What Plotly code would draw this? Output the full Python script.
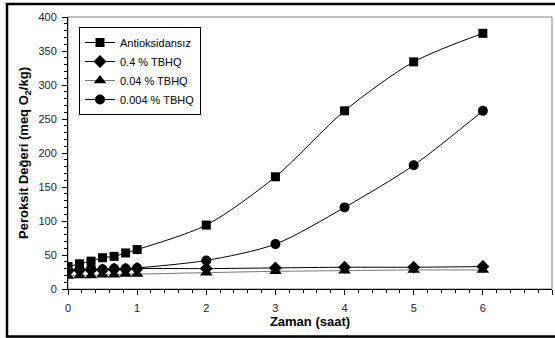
import plotly.graph_objects as go

# Sampling times (hours)
zaman = [0, 1/6, 1/3, 0.5, 2/3, 5/6, 1, 2, 3, 4, 5, 6]

# Peroxide values (meq O2/kg)
antioksidansiz = [33, 37, 41, 46, 48, 53, 58, 94, 165, 262, 334, 376]
tbhq_04 = [27, 28, 28, 28, 29, 29, 30, 30, 31, 32, 32, 33]
tbhq_004 = [19, 20, 20, 21, 21, 22, 22, 24, 26, 27, 28, 28]
tbhq_0004 = [28, 29, 30, 29, 30, 30, 31, 42, 66, 120, 182, 262]

series = [
    ("Antioksidansız", antioksidansiz, "square", 9, "black"),
    ("0.4 % TBHQ", tbhq_04, "diamond", 10, "black"),
    ("0.04 % TBHQ", tbhq_004, "triangle-up", 11, "#777777"),
    ("0.004 % TBHQ", tbhq_0004, "circle", 10, "black"),
]

fig = go.Figure()
for name, vals, sym, size, lcol in series:
    fig.add_trace(go.Scatter(
        x=zaman, y=vals, name=name, mode="lines+markers",
        line=dict(color=lcol, width=1, shape="spline", smoothing=0.8),
        marker=dict(symbol=sym, size=size, color="black", line=dict(width=0)),
    ))

W, H = 555, 338
L, R, T, B = 68, 3, 17, 49
pw, ph = W - L - R, H - T - B


def px(x):
    return (x - L) / pw


def py(y):
    return (H - B - y) / ph


# plot-area box (thin grey) and the outer black frame
fig.add_shape(type="rect", xref="paper", yref="paper", x0=0, x1=1, y0=0, y1=1,
              line=dict(color="#808080", width=1), layer="below")
fig.add_shape(type="rect", xref="paper", yref="paper",
              x0=px(7), x1=px(558), y0=py(336.5), y1=py(4),
              line=dict(color="black", width=2.5), layer="above")

axis_font = dict(family="Liberation Sans, Arial, sans-serif", size=11, color="#222222")
title_font = dict(family="Liberation Sans, Arial, sans-serif", size=13, color="black")

fig.update_xaxes(
    range=[0, 7], dtick=1, tick0=0, showgrid=False, zeroline=False,
    showline=True, linecolor="black", linewidth=1,
    ticks="outside", ticklen=5, tickcolor="black", tickfont=axis_font,
    ticklabelstandoff=4,
    minor=dict(dtick=0.2, ticks="outside", ticklen=3, tickcolor="black", showgrid=False),
    title=dict(text="<b>Zaman (saat)</b>", font=title_font, standoff=2),
)
fig.update_yaxes(
    range=[0, 400], dtick=50, tick0=0, showgrid=False, zeroline=False,
    showline=True, linecolor="black", linewidth=1,
    ticks="outside", ticklen=5, tickcolor="black", tickfont=axis_font,
    ticklabelstandoff=3,
    minor=dict(dtick=10, ticks="outside", ticklen=3, tickcolor="black", showgrid=False),
    title=dict(text="<b>Peroksit Değeri (meq O<sub>2</sub>/kg)</b>", font=title_font, standoff=6),
)

fig.update_layout(
    width=W, height=H,
    margin=dict(l=L, r=R, t=T, b=B),
    paper_bgcolor="white", plot_bgcolor="white",
    font=dict(family="Liberation Sans, Arial, sans-serif", color="black"),
    legend=dict(
        x=px(79), y=py(27), xanchor="left", yanchor="top",
        bordercolor="black", borderwidth=1, bgcolor="white",
        font=dict(family="Liberation Sans, Arial, sans-serif", size=11, color="black"),
        itemwidth=30, tracegroupgap=0,
    ),
)

fig.write_html("out.html")
